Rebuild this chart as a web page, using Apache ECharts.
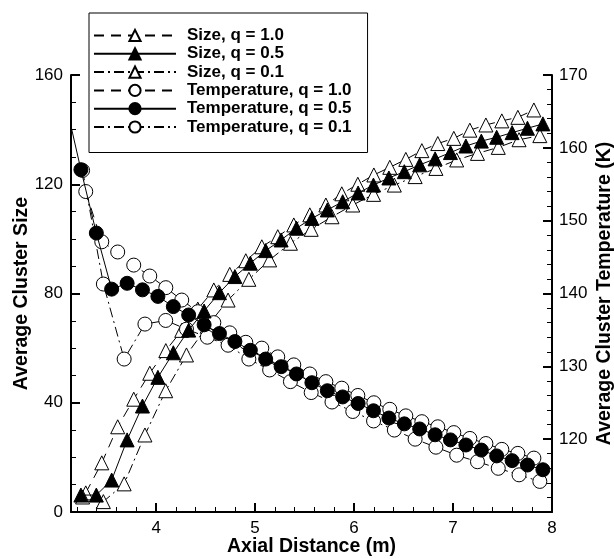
<!DOCTYPE html>
<html><head><meta charset="utf-8">
<script src="https://cdn.jsdelivr.net/npm/echarts@6/dist/echarts.min.js"></script>
<style>html,body{margin:0;padding:0;background:#fff}#c{width:614px;height:559px}</style>
</head><body><div id="c"></div>
<script>
// ---- data ----
const seriesNames = ['Size, q = 1.0', 'Size, q = 0.5', 'Size, q = 0.1',
  'Temperature, q = 1.0', 'Temperature, q = 0.5', 'Temperature, q = 0.1'];

const xQ10 = [3.289, 3.451, 3.612, 3.774, 3.936, 4.098, 4.259, 4.421, 4.583, 4.744,
  4.906, 5.068, 5.229, 5.391, 5.553, 5.715, 5.876, 6.038, 6.200, 6.361,
  6.523, 6.685, 6.846, 7.008, 7.170, 7.332, 7.493, 7.655, 7.817];
const xQ05 = [3.240, 3.396, 3.551, 3.707, 3.862, 4.018, 4.174, 4.329, 4.485, 4.640,
  4.796, 4.952, 5.107, 5.263, 5.418, 5.574, 5.730, 5.885, 6.041, 6.196,
  6.352, 6.508, 6.663, 6.819, 6.974, 7.130, 7.286, 7.441, 7.597, 7.752, 7.908];
const xQ05T = [3.084, 3.240, 3.396, 3.551, 3.707, 3.862, 4.018, 4.174, 4.329, 4.485, 4.640,
  4.796, 4.952, 5.107, 5.263, 5.418, 5.574, 5.730, 5.885, 6.041, 6.196,
  6.352, 6.508, 6.663, 6.819, 6.974, 7.130, 7.286, 7.441, 7.597, 7.752, 7.908];
const xQ01 = [3.257, 3.467, 3.677, 3.887, 4.097, 4.307, 4.517, 4.727, 4.937, 5.147,
  5.357, 5.567, 5.777, 5.987, 6.197, 6.407, 6.617, 6.827, 7.037, 7.247,
  7.457, 7.667, 7.877];

const sizeQ10 = [7, 18.0, 31.2, 41.3, 50.8, 59.1, 66.5, 74.3, 81.3, 87.0,
  92.0, 97.1, 100.8, 105.1, 108.8, 112.4, 116.5, 120.0, 123.4, 126.2,
  129.1, 132.3, 134.9, 136.8, 139.8, 141.7, 143.2, 144.5, 147.2];
const sizeQ05 = [6.2, 6.2, 11.7, 26.4, 38.8, 49.3, 58.3, 66.6, 73.6, 80.3,
  86.2, 91.1, 95.7, 99.6, 103.9, 107.5, 110.6, 113.6, 116.8, 119.7,
  122.3, 124.6, 127.1, 129.3, 131.6, 134.0, 135.8, 137.2, 138.9, 140.5, 142.1];
const sizeQ01 = [5.5, 3.8, 10.3, 28.2, 44.4, 57.5, 68.0, 77.6, 85.2, 92.3,
  98.4, 103.5, 108.1, 112.4, 116.3, 119.7, 122.8, 125.8, 128.9, 131.3,
  133.5, 136.3, 137.8];

const tempQ10 = [154.0, 147.1, 145.7, 143.9, 142.4, 140.8, 139.1, 137.5, 136.0, 134.6,
  133.3, 132.5, 131.3, 130.2, 128.95, 127.9, 127.0, 126.0, 125.0, 124.1,
  123.2, 122.4, 121.7, 120.9, 120.1, 119.4, 118.6, 118.05, 117.4];
const tempQ05 = [166.3, 157.0, 148.3, 140.6, 141.4, 140.5, 139.6, 138.2, 137.05, 135.7, 134.5,
  133.4, 132.2, 131.0, 129.95, 128.95, 127.75, 126.65, 125.8, 124.9, 123.9,
  122.9, 122.1, 121.4, 120.6, 119.9, 119.2, 118.5, 117.7, 117.05, 116.45, 115.8];
const tempQ01 = [156.9, 141.3, 131.0, 135.8, 136.3, 135.1, 134.0, 132.9, 131.0, 129.5,
  127.9, 126.4, 125.1, 123.8, 122.5, 121.25, 120.0, 118.9, 117.8, 116.9,
  116.0, 115.1, 114.2];

const xMajorTicks = [4, 5, 6, 7, 8];
const xMinorTicks = [3.2, 3.4, 3.6, 3.8, 4.2, 4.4, 4.6, 4.8, 5.2, 5.4, 5.6, 5.8,
  6.2, 6.4, 6.6, 6.8, 7.2, 7.4, 7.6, 7.8];

// ---- chart ----
const FONT = '"Liberation Sans", Arial, Helvetica, sans-serif';
const zip = (xs, ys) => xs.map((x, i) => [x, ys[i]]);

const openStyle = { color: '#ffffff', borderColor: '#000', borderWidth: 1 };
const fillStyle = { color: '#000000', borderColor: '#000', borderWidth: 1 };
const DASH = [10, 7];
const DASHDOT = [10, 4, 2, 4];

function mk(name, xs, ys, yIdx, symbol, filled, dash, z) {
  return {
    name, type: 'line', xAxisIndex: 0, yAxisIndex: yIdx,
    data: zip(xs, ys), symbol, symbolSize: 14,
    showAllSymbol: true, clip: true, z,
    itemStyle: filled ? fillStyle : openStyle,
    lineStyle: { color: '#000', width: 1, type: dash },
    emphasis: { disabled: true }
  };
}

const series = [
  mk(seriesNames[0], xQ10, sizeQ10, 0, 'triangle', false, DASH, 2),
  mk(seriesNames[2], xQ01, sizeQ01, 0, 'triangle', false, DASHDOT, 2),
  mk(seriesNames[3], xQ10, tempQ10, 1, 'circle', false, DASH, 2),
  mk(seriesNames[5], xQ01, tempQ01, 1, 'circle', false, DASHDOT, 2),
  mk(seriesNames[1], xQ05, sizeQ05, 0, 'triangle', true, 'solid', 3),
  mk(seriesNames[4], xQ05T, tempQ05, 1, 'circle', true, 'solid', 3)
];

const axisLine = { show: true, lineStyle: { color: '#000', width: 2 } };
const labelStyle = { color: '#000', fontSize: 17, fontFamily: FONT };
const nameStyle = { color: '#000', fontSize: 19.5, fontWeight: 'bold', fontFamily: FONT };

const chart = echarts.init(document.getElementById('c'), null, { renderer: 'canvas' });
chart.setOption({
  animation: false,
  backgroundColor: '#fff',
  grid: [
    { left: 71, right: 62, top: 75, bottom: 47, containLabel: false, outerBoundsMode: 'none' },
    { left: 71, right: 62, top: 75, bottom: 47, containLabel: false, outerBoundsMode: 'none' }
  ],
  xAxis: [
    {
      type: 'value', gridIndex: 0, min: 3.14, max: 8, position: 'bottom',
      axisLine,
      axisTick: { show: true, inside: true, length: 9, customValues: xMajorTicks,
        lineStyle: { color: '#000', width: 2 } },
      axisLabel: { ...labelStyle, margin: 8, customValues: xMajorTicks, showMinLabel: true, showMaxLabel: true },
      splitLine: { show: false },
      name: 'Axial Distance (m)', nameLocation: 'middle', nameGap: 25, nameMoveOverlap: false,
      nameTextStyle: nameStyle
    },
    {
      type: 'value', gridIndex: 1, min: 3.14, max: 8, position: 'bottom',
      axisLine: { show: false },
      axisTick: { show: true, inside: true, length: 5, customValues: xMinorTicks,
        lineStyle: { color: '#000', width: 1 } },
      axisLabel: { show: false },
      splitLine: { show: false }
    }
  ],
  yAxis: [
    {
      type: 'value', gridIndex: 0, min: 0, max: 160, interval: 40, position: 'left',
      axisLine,
      axisTick: { show: true, inside: true, length: 9, lineStyle: { color: '#000', width: 2 } },
      minorTick: { show: true, splitNumber: 4, length: 5, lineStyle: { color: '#000', width: 1 } },
      axisLabel: { ...labelStyle, margin: 8 },
      splitLine: { show: false },
      name: 'Average Cluster Size', nameLocation: 'middle', nameRotate: 90, nameGap: 39,
      nameMoveOverlap: false, nameTextStyle: nameStyle
    },
    {
      type: 'value', gridIndex: 0, min: 110, max: 170, interval: 10, position: 'right',
      axisLine,
      axisTick: { show: true, inside: true, length: 9, lineStyle: { color: '#000', width: 2 } },
      minorTick: { show: true, splitNumber: 5, length: 5, lineStyle: { color: '#000', width: 1 } },
      axisLabel: { ...labelStyle, margin: 7, showMinLabel: false },
      splitLine: { show: false },
      name: 'Average Cluster Temperature (K)', nameLocation: 'middle', nameRotate: 90, nameGap: 43,
      nameMoveOverlap: false, nameTextStyle: nameStyle
    },
    {
      type: 'value', gridIndex: 1, min: 0, max: 1, show: false
    }
  ],
  legend: {
    data: seriesNames, orient: 'vertical', left: 89, top: 13,
    padding: [14, 16, 17, 4], itemWidth: 82, itemHeight: 14, itemGap: 1.3,
    borderColor: '#000', borderWidth: 1, backgroundColor: '#fff',
    selectedMode: false, z: 10,
    textStyle: { color: '#000', fontSize: 17, fontWeight: 'bold', fontFamily: FONT, lineHeight: 14, padding: [0, 0, 0, 6] }
  },
  series
});
</script>
</body></html>
